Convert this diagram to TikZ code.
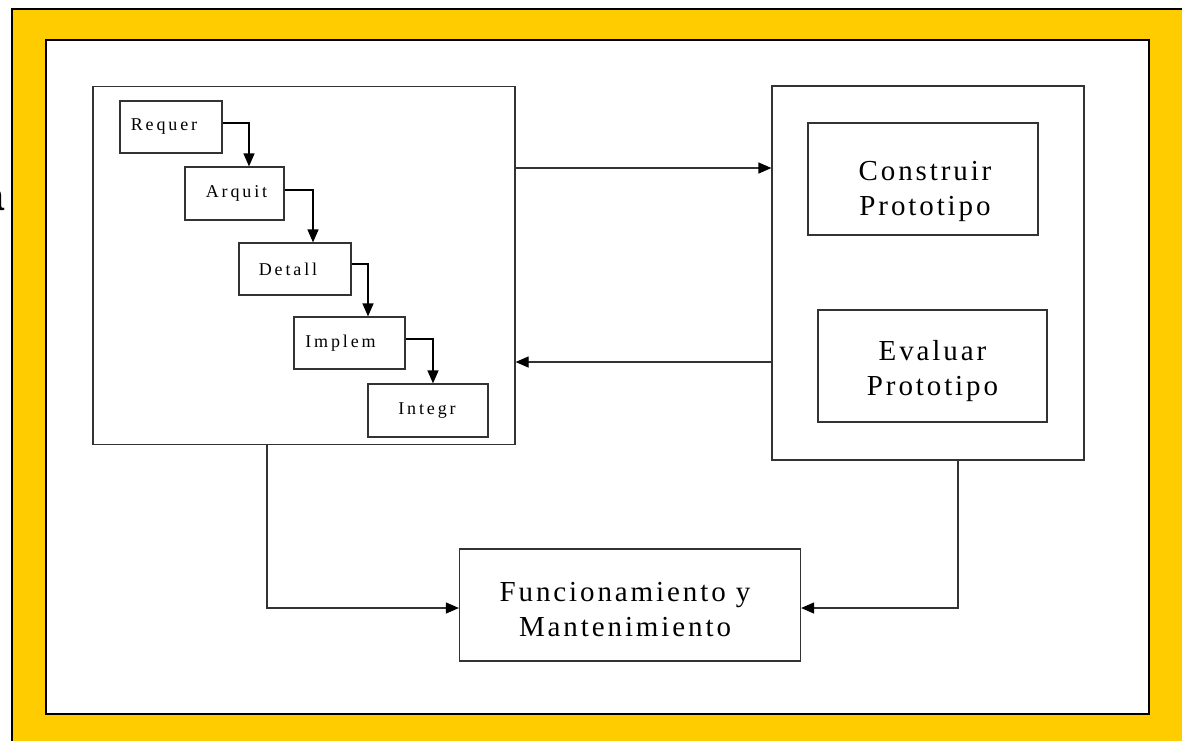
\documentclass[tikz,border=0pt]{standalone}
\usepackage{fontspec}
\setmainfont{Liberation Serif}
\newfontfamily\bigf[LetterSpace=10]{Liberation Serif}
\newfontfamily\smallf[LetterSpace=16]{Liberation Serif}
\newfontfamily\sansf{Liberation Sans}
\usetikzlibrary{arrows.meta}
\definecolor{gold}{HTML}{FFCC00}
\definecolor{ln}{HTML}{333333}
\begin{document}
\begin{tikzpicture}[x=1pt,y=-1pt,
  box/.style={draw=ln,line width=1.2pt,fill=white,rectangle,inner sep=0pt},
  lbl/.style={font=\smallf\fontsize{18}{21}\selectfont},
  bigl/.style={align=center,font=\bigf\fontsize{29}{35}\selectfont},
  conn/.style={draw=ln,line width=1.2pt,-{Triangle[length=13pt,width=11pt,color=black]}},
  flow/.style={draw=black,line width=1.2pt,-{Triangle[length=13pt,width=11pt]}}]
\useasboundingbox (0,0) rectangle (1182,740);
% frames
\path[fill=gold,draw=black,line width=2pt] (12,9) rectangle (1200,760);
\path[fill=white,draw=black,line width=2pt] (46,40) rectangle (1149,714);
\node[font=\sansf\fontsize{40}{40}\selectfont,anchor=east,inner sep=0pt] (cut) at (4.5,200) {a};
% main boxes
\node[box,minimum width=422,minimum height=358] (wf) at (304,265.5) {};
\node[box,minimum width=312,minimum height=374] (proto) at (928,273) {};
\node[box,minimum width=230,minimum height=112,label={[bigl,yshift=-12,xshift=2]center:Construir\\Prototipo}] (cons) at (923,179) {};
\node[box,minimum width=229,minimum height=112,label={[bigl,yshift=-5]center:Evaluar\\Prototipo}] (eval) at (932.5,366) {};
\node[box,minimum width=341,minimum height=112,label={[bigl,yshift=-5,xshift=-5]center:Funcionamiento y\\Mantenimiento}] (func) at (630,605) {};
% waterfall boxes
\node[box,minimum width=102,minimum height=52,label={[lbl,xshift=-7]center:Requer}] (req) at (171,127) {};
\node[box,minimum width=99,minimum height=53,label={[lbl,xshift=2]center:Arquit}] (arq) at (234.5,193.5) {};
\node[box,minimum width=112,minimum height=52,label={[lbl,xshift=-7]center:Detall}] (det) at (295,269) {};
\node[box,minimum width=111,minimum height=52,label={[lbl,xshift=-9]center:Implem}] (imp) at (349.5,343) {};
\node[box,minimum width=120,minimum height=53,label={[lbl,xshift=-1]center:Integr}] (int) at (428,410.5) {};
% waterfall flow
\draw[flow] (req.east |- 0,123) -| (arq.north -| 249,0);
\draw[flow] (arq.east |- 0,190) -| (det.north -| 313,0);
\draw[flow] (det.east |- 0,264) -| (imp.north -| 368,0);
\draw[flow] (imp.east |- 0,339) -| (int.north -| 433,0);
% connectors
\draw[conn] (wf.east |- 0,168) -- (proto.west |- 0,168);
\draw[conn] (proto.west |- 0,362) -- (wf.east |- 0,362);
\draw[conn] (wf.south -| 267,0) |- (func.west |- 0,608);
\draw[conn] (proto.south -| 958,0) |- (func.east |- 0,608);
\end{tikzpicture}
\end{document}
